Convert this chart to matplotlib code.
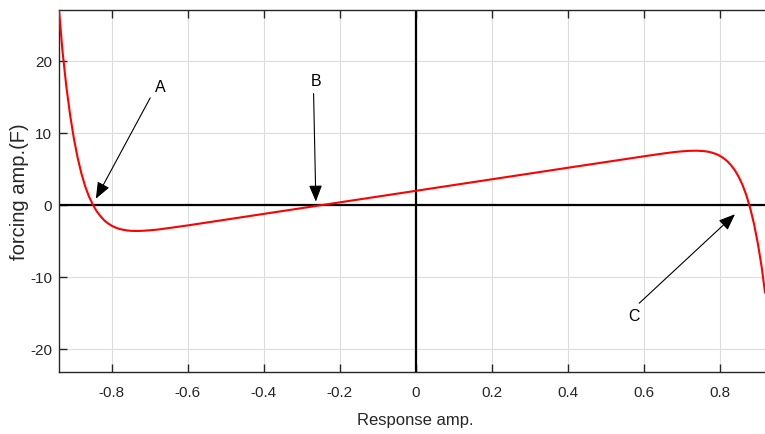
import matplotlib
matplotlib.use("Agg")
import matplotlib.pyplot as plt

# Response amplitude (x) and forcing amplitude (F)
resp_amp = [-0.939, -0.93, -0.92, -0.91, -0.90, -0.89, -0.88, -0.87, -0.86, -0.85,
            -0.84, -0.83, -0.82, -0.81, -0.80, -0.79, -0.78, -0.77, -0.76, -0.75,
            -0.74, -0.73, -0.72, -0.70, -0.68, -0.65, -0.60, -0.40, -0.20, 0.0,
            0.20, 0.40, 0.60, 0.65, 0.68, 0.70, 0.72, 0.74, 0.76, 0.77, 0.78,
            0.79, 0.80, 0.81, 0.82, 0.83, 0.84, 0.85, 0.86, 0.87, 0.88, 0.89,
            0.90, 0.91, 0.919]
forcing_amp = [27.1, 21.5, 16.6, 12.6, 9.3, 6.6, 4.4, 2.6, 1.2, 0.08,
               -0.82, -1.52, -2.1, -2.53, -2.86, -3.11, -3.29, -3.41, -3.50, -3.55,
               -3.57, -3.57, -3.55, -3.48, -3.38, -3.17, -2.80, -1.20, 0.40, 2.0,
               3.60, 5.20, 6.79, 7.17, 7.38, 7.48, 7.55, 7.57, 7.50, 7.42, 7.29,
               7.11, 6.86, 6.53, 6.10, 5.53, 4.82, 3.92, 2.79, 1.37, -0.39, -2.58,
               -5.26, -8.50, -12.1]

x_ticks = [-0.8, -0.6, -0.4, -0.2, 0, 0.2, 0.4, 0.6, 0.8]
x_tick_labels = ["-0.8", "-0.6", "-0.4", "-0.2", "0", "0.2", "0.4", "0.6", "0.8"]
y_ticks = [-20, -10, 0, 10, 20]
y_tick_labels = ["-20", "-10", "0", "10", "20"]

# annotations: label, text position, arrow tail, arrow head
annot_labels = ["A", "B", "C"]
annot_text_xy = [(-0.673, 16.4), (-0.263, 17.2), (0.573, -15.5)]
annot_tail_xy = [(-0.699, 14.9), (-0.269, 15.5), (0.588, -13.6)]
annot_head_xy = [(-0.842, 0.9), (-0.263, 0.5), (0.840, -1.25)]

fam = ["Liberation Sans", "DejaVu Sans"]

fig = plt.figure(figsize=(7.65, 4.34), dpi=100)
ax = fig.add_axes([59 / 765, 1 - 372 / 434, (765 - 59) / 765, (372 - 10) / 434])

ax.set_xlim(-0.939, 0.919)
ax.set_ylim(-23.15, 27.1)

ax.grid(True, color="#dcdcdc", linewidth=0.8)
ax.set_axisbelow(True)

ax.axhline(0, color="black", linewidth=1.6, zorder=2)
ax.axvline(0, color="black", linewidth=1.6, zorder=2)

ax.plot(resp_amp, forcing_amp, color="red", linewidth=1.5, zorder=3)

for lab, txy, tail, head in zip(annot_labels, annot_text_xy, annot_tail_xy, annot_head_xy):
    ax.text(txy[0], txy[1], lab, ha="center", va="center", fontsize=11.5,
            family=fam, color="black")
    ax.annotate("", xy=head, xytext=tail,
                arrowprops=dict(arrowstyle="-|>,head_length=1.0,head_width=0.4",
                                color="black", lw=0.8, shrinkA=0, shrinkB=0),
                zorder=4)

ax.set_xticks(x_ticks)
ax.set_xticklabels(x_tick_labels, family=fam, fontsize=11, color="#262626")
ax.set_yticks(y_ticks)
ax.set_yticklabels(y_tick_labels, family=fam, fontsize=11, color="#262626")

ax.tick_params(direction="in", length=6, width=1.0, top=True, right=False,
               color="#262626")
ax.tick_params(axis="x", pad=10)
ax.tick_params(axis="y", pad=5)

for side in ["left", "bottom", "top"]:
    ax.spines[side].set_linewidth(1.0)
    ax.spines[side].set_color("#262626")
ax.spines["right"].set_visible(False)

ax.set_xlabel("Response amp.", family=fam, fontsize=12, color="#262626",
              va="center", ha="center")
ax.xaxis.set_label_coords((415 - 59) / 706, -(421 - 372) / 362)
ax.set_ylabel("forcing amp.(F)", family=fam, fontsize=14.5, color="#262626",
              va="center", ha="center")
ax.yaxis.set_label_coords((20 - 59) / 706, (372 - 192) / 362)

fig.savefig("out.png", dpi=100)
